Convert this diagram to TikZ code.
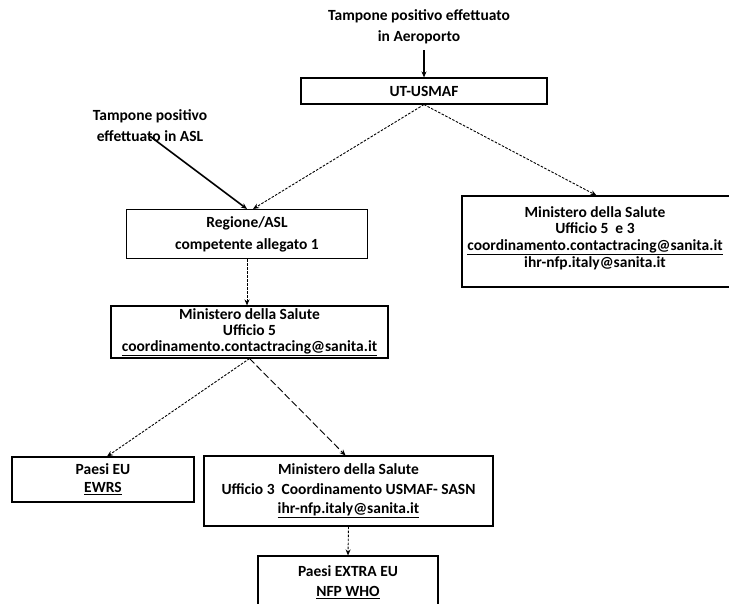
\documentclass[tikz,border=0pt]{standalone}
\usepackage{fontspec}
\setmainfont{Carlito}
\usetikzlibrary{arrows.meta}
\begin{document}
\begin{tikzpicture}[x=1pt,y=-1pt,
  box/.style={draw, line width=1.1pt, inner sep=0pt, align=center, font=\bfseries\fontsize{15.5}{17}\selectfont},
  txt/.style={align=center, inner sep=0pt, font=\bfseries\fontsize{15.5}{17}\selectfont},
  lbl/.style={align=center, inner sep=0pt, font=\bfseries\fontsize{15.5}{21}\selectfont},
  tipk/.style={-{Stealth[length=6pt,width=5pt]}},
  conn/.style={tipk, line width=0.9pt},
  dotl/.style={conn, dash pattern=on 2.5pt off 1.5pt},
  longd/.style={conn, dash pattern=on 7pt off 3pt},
  solidarr/.style={tipk, line width=1.6pt}
]
\useasboundingbox (0,0) rectangle (729,604);

% top label and UT-USMAF
\node[lbl] (aero) at (419,27) {Tampone positivo effettuato\\in Aeroporto};
\node[box, minimum width=246pt, minimum height=26pt] (usmaf) at (424,91) {UT-USMAF};

% ASL label
\node[lbl] (asl) at (150,126) {Tampone positivo\\effettuato in ASL};

% Regione box
\node[box, minimum width=241pt, minimum height=49pt, font=\bfseries\fontsize{15.5}{22}\selectfont] (regione) at (247,234) {Regione/ASL\\competente allegato 1};

% right Ministero box
\node[box, minimum width=285pt, minimum height=91pt] (m53) at (604.5,241.5) {};
\node[txt, font=\bfseries\fontsize{15.5}{16.7}\selectfont] (m53t) at (595,238) {Ministero della Salute\\Ufficio 5~~e 3\\\underline{coordinamento.contactracing@sanita.it}\\ihr-nfp.italy@sanita.it};

% Ministero Ufficio 5
\node[box, minimum width=277pt, minimum height=52pt, font=\bfseries\fontsize{15.5}{16}\selectfont] (min5) at (249.5,332) {Ministero della Salute\\Ufficio 5\\\underline{coordinamento.contactracing@sanita.it}};

% bottom row
\node[box, minimum width=182pt, minimum height=45pt, font=\bfseries\fontsize{15.5}{18}\selectfont] (eu) at (103,479.5) {Paesi EU\\\underline{EWRS}};
\node[box, minimum width=289pt, minimum height=70pt, font=\bfseries\fontsize{15.5}{19.5}\selectfont] (uff3) at (348.5,491) {Ministero della Salute\\Ufficio 3~~Coordinamento USMAF- SASN\\\underline{ihr-nfp.italy@sanita.it}};
\node[box, minimum width=180pt, minimum height=59pt] (extra) at (348,585.5) {};
\node[txt, font=\bfseries\fontsize{15.5}{20}\selectfont] (extrat) at (348,582) {Paesi EXTRA EU\\\underline{NFP WHO}};

% connectors
\draw[solidarr] (aero.south -| usmaf.north) ++(0,6) -- (usmaf.north);
\draw[solidarr] ([yshift=6pt]asl.south) -- (regione.north);
\draw[dotl] (usmaf.south) -- ([xshift=6pt]regione.north);
\draw[dotl] (usmaf.south) -- ([xshift=-8pt]m53.north);
\draw[dotl] (regione.south) -- (regione.south |- min5.north);
\draw[dotl] (min5.south) -- ([xshift=4pt]eu.north);
\draw[longd] (min5.south) -- ([xshift=-3pt]uff3.north);
\draw[dotl] (uff3.south) -- (extra.north);
\end{tikzpicture}
\end{document}
